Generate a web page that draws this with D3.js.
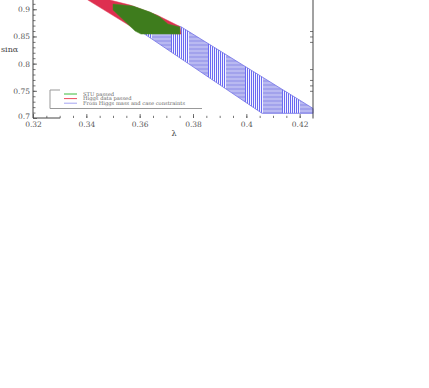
<!DOCTYPE html>
<html>
<head>
<meta charset="utf-8">
<script src="https://cdn.jsdelivr.net/npm/d3@7"></script>
<style>
  body { margin: 0; background: #fff; }
  svg { display: block; }
  .tick text { font-family: "DejaVu Serif", serif; font-size: 7.5px; fill: #555; }
  .tick line { stroke: #555; stroke-width: 0.8; }
  .frame { stroke: #444; stroke-width: 1; fill: none; }
</style>
</head>
<body>
<div id="chart"></div>
<script>
var width = 429;
var height = 388;

// blue: from Higgs mass constraints (lambda, sin alpha)
var blueLam = [0.3545, 0.3755, 0.425, 0.425, 0.4059, 0.3613];
var blueSin = [0.8948, 0.8678, 0.7176, 0.7086, 0.7086, 0.8562];
// red: Higgs data passed
var redLam = [0.3391, 0.3474, 0.3489, 0.3564, 0.3665, 0.3751, 0.3755, 0.3601, 0.3406];
var redSin = [0.9242, 0.9242, 0.9169, 0.9077, 0.8893, 0.8682, 0.8544, 0.8581, 0.9169];
// green: STU passed
var greenLam = [0.3500, 0.3575, 0.3639, 0.3676, 0.3706, 0.3751, 0.3751, 0.3605, 0.3583, 0.3500];
var greenSin = [0.9096, 0.9059, 0.8948, 0.8856, 0.8728, 0.8672, 0.8544, 0.8544, 0.8599, 0.8985];

var xTicks = [0.32, 0.34, 0.36, 0.38, 0.4, 0.42];
var yTicks = [0.7, 0.75, 0.8, 0.85, 0.9];
var rightTicks = [0.86, 0.85, 0.84, 0.79, 0.77, 0.76, 0.75];
var legendNames = ["STU passed", "Higgs data passed", "From Higgs mass and case constraints"];
var legendColors = ["#3cba3c", "#ec4a5c", "#a4a4f2"];

var svg = d3.select("#chart")
            .append("svg")
            .attr("width", width)
            .attr("height", height);

var xScale = d3.scaleLinear().domain([0.32, 0.425]).range([33, 313]);
var yScale = d3.scaleLinear().domain([0.7, 0.92]).range([118, -1.6]);

function pts(lams, sins){
  return lams.map(function(l, i){ return [xScale(l), yScale(sins[i])]; });
}

// hatch pattern for the blue band (moire of a fine hatching)
var defs = svg.append("defs");
var pat = defs.append("pattern")
              .attr("id", "bluehatch")
              .attr("patternUnits", "userSpaceOnUse")
              .attr("x", 23).attr("y", 0)
              .attr("width", 37).attr("height", 4);
pat.append("rect").attr("width", 37).attr("height", 4).attr("fill", "#b9b9f1");
pat.append("rect").attr("x", 18).attr("width", 19).attr("height", 2).attr("fill", "#a2a2ec");
pat.append("rect").attr("width", 18).attr("height", 4).attr("fill", "#f4f4fe");
for (var k = 0; k < 9; k++) {
  pat.append("rect").attr("x", k * 2).attr("width", 1).attr("height", 4).attr("fill", "#6a6af2");
}

var line = d3.line().curve(d3.curveLinearClosed);

svg.append("path")
   .attr("d", line(pts(blueLam, blueSin)))
   .attr("fill", "url(#bluehatch)")
   .attr("stroke", "#7070e6")
   .attr("stroke-width", 0.8);

svg.append("path")
   .attr("d", line(pts(redLam, redSin)))
   .attr("fill", "#de2f50")
   .attr("stroke", "#e0405a")
   .attr("stroke-width", 0.5);

svg.append("path")
   .attr("d", line(pts(greenLam, greenSin)))
   .attr("fill", "#3e7c1d")
   .attr("stroke", "#4a8a26")
   .attr("stroke-width", 0.5);

// axes
var fmt = function(d){ return d3.format("")(+d.toFixed(2)); };
var yAxis = d3.axisLeft(yScale).tickValues(yTicks).tickSize(-4).tickPadding(3).tickFormat(fmt);
var yMinor = d3.axisLeft(yScale).tickValues(d3.range(71, 92).map(function(v){ return v / 100; }))
               .tickSize(-2.5).tickFormat("");
var xAxis = d3.axisBottom(xScale).tickValues(xTicks).tickSize(-4).tickPadding(4).tickFormat(fmt);
var xMinor = d3.axisBottom(xScale).tickValues(d3.range(65, 85).map(function(v){ return v / 200; }))
               .tickSize(-2.2).tickFormat("");
var rAxis = d3.axisRight(yScale).tickValues(rightTicks).tickSize(-3).tickFormat("");

svg.append("g").attr("transform", "translate(" + xScale(0.32) + ",0)").call(yMinor);
var gy = svg.append("g").attr("transform", "translate(" + xScale(0.32) + ",0)").call(yAxis);
svg.append("g").attr("transform", "translate(0," + yScale(0.7) + ")").call(xMinor);
svg.append("g").attr("transform", "translate(0," + yScale(0.7) + ")").call(xAxis);
svg.append("g").attr("transform", "translate(" + xScale(0.425) + ",0)").call(rAxis);
svg.selectAll(".domain").remove();
// lift the 0.7 label a little so it clears the 0.32 label
gy.selectAll(".tick text").filter(function(d){ return d === 0.7; }).attr("dy", "0.05em");

svg.append("line").attr("class", "frame")
   .attr("x1", xScale(0.32)).attr("x2", xScale(0.32))
   .attr("y1", yScale(0.7)).attr("y2", yScale(0.92));
svg.append("line").attr("class", "frame")
   .attr("x1", xScale(0.425)).attr("x2", xScale(0.425))
   .attr("y1", yScale(0.7) + 0.5).attr("y2", yScale(0.92));
svg.append("line").attr("class", "frame")
   .attr("x1", xScale(0.32)).attr("x2", xScale(0.3302))
   .attr("y1", yScale(0.7)).attr("y2", yScale(0.7));

// axis titles
svg.append("text")
   .attr("x", 1).attr("y", 52)
   .attr("font-family", "DejaVu Serif, serif").attr("font-size", 8)
   .attr("fill", "#444")
   .text("sinα");
svg.append("text")
   .attr("x", 174).attr("y", 136)
   .attr("text-anchor", "middle")
   .attr("font-family", "DejaVu Serif, serif").attr("font-size", 8)
   .attr("fill", "#444")
   .text("λ");

// legend
var leg = svg.append("g");
leg.append("path")
   .attr("d", "M60,90H50V108.5H202")
   .attr("fill", "none").attr("stroke", "#999").attr("stroke-width", 1);
legendNames.forEach(function(name, i){
  var ly = 94 + i * 4.6;
  leg.append("line")
     .attr("x1", 64).attr("x2", 77).attr("y1", ly).attr("y2", ly)
     .attr("stroke", legendColors[i]).attr("stroke-width", 1);
  leg.append("text")
     .attr("x", 83).attr("y", ly + 1.8)
     .attr("font-family", "DejaVu Serif, serif").attr("font-size", 5.2)
     .attr("fill", "#666")
     .text(name);
});
</script>
</body>
</html>
